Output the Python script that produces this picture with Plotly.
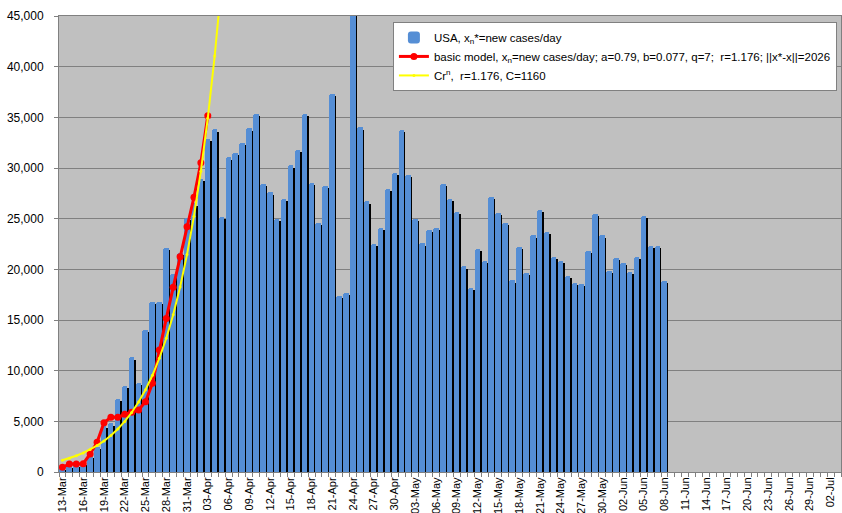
import pandas as pd
import plotly.graph_objects as go

# Daily new COVID-19 cases in the USA, 13-Mar .. 08-Jun 2020
start_date = "2020-03-13"
usa_new_cases = [
    430, 650, 750, 900, 1600, 2500, 4600, 4800, 7200, 8500,
    11300, 8800, 14000, 16800, 16800, 22100, 19500, 21600, 25100,          # March
    26500, 28900, 32900, 33800, 25200, 31050, 31500, 32500, 33900, 35350,
    28400, 27600, 25000, 26950, 30250, 31800, 35350, 28550, 24550, 28200,
    37350, 17350, 17700, 48000, 34000, 26700, 22500, 24100, 27950, 29550,  # April
    33750, 29300, 24950, 22550, 23900, 24100, 28400, 26950, 25650, 20300,
    18150, 22050, 20800, 27150, 25600, 24550, 18900, 22250, 19650, 23350,
    25900, 23700, 21250, 20850, 19350, 18700, 18550, 21850, 25450, 23350,
    19850,                                                                 # May
    21150, 20600, 19750, 21200, 25250, 22300, 22350, 18850,                # June
]

# Basic model output, 13-Mar .. 03-Apr
basic_model = [
    460, 790, 790, 820, 1780, 2930, 4870, 5400, 5400, 5690, 5900,
    6120, 6940, 8750, 12040, 15160, 18220, 21250, 24210, 27110, 30520, 35150,
]

# Exponential reference curve C*r^n
C_COEF = 1160
R_RATE = 1.176
N_STEPS = 24

bar_dates = pd.date_range(start_date, periods=len(usa_new_cases))
model_dates = pd.date_range(start_date, periods=len(basic_model))
exp_dates = pd.date_range(start_date, periods=N_STEPS)
exp_curve = [C_COEF * R_RATE ** n for n in range(N_STEPS)]

DAY_MS = 86400000
FONT = "Liberation Sans, Arial, sans-serif"
GRID = "#808080"

fig = go.Figure()

# shadow behind each bar
fig.add_trace(go.Bar(
    x=bar_dates, y=usa_new_cases, base=-220,
    width=0.80 * DAY_MS, offset=-0.24 * DAY_MS,
    marker=dict(color="#000000", line=dict(width=0)),
    showlegend=False, hoverinfo="skip",
))
fig.add_trace(go.Bar(
    x=bar_dates, y=usa_new_cases,
    width=0.80 * DAY_MS, offset=-0.44 * DAY_MS,
    marker=dict(color="#558ED5", line=dict(width=0), cornerradius=2),
    name="USA, x<sub>n</sub>*=new cases/day",
))
fig.add_trace(go.Scatter(
    x=model_dates, y=basic_model, mode="lines+markers",
    line=dict(color="#FF0000", width=3),
    marker=dict(color="#FF0000", size=7),
    name="basic model, x<sub>n</sub>=new cases/day; a=0.79, b=0.077, q=7;  r=1.176; ||x*-x||=2026",
))
fig.add_trace(go.Scatter(
    x=exp_dates, y=exp_curve, mode="lines+markers",
    line=dict(color="#FFFF00", width=2),
    marker=dict(color="#FFFF00", size=3),
    name="Cr<sup>n</sup>,  r=1.176, C=1160",
))

fig.update_layout(
    width=842, height=513,
    margin=dict(l=59, r=1, t=16, b=41, autoexpand=False),
    paper_bgcolor="#FFFFFF",
    plot_bgcolor="#C0C0C0",
    barmode="overlay",
    bargap=0,
    font=dict(family=FONT, size=12, color="#000000"),
    legend=dict(
        x=0.427, y=0.987, xanchor="left", yanchor="top",
        bgcolor="#FFFFFF", bordercolor=GRID, borderwidth=1,
        font=dict(family=FONT, size=11.5),
        itemwidth=30,
        tracegroupgap=2,
    ),
    xaxis=dict(
        type="date",
        range=["2020-03-12 12:00", "2020-07-03 12:00"],
        tick0=start_date, dtick=3 * DAY_MS,
        tickformat="%d-%b", tickangle=-90,
        tickfont=dict(family=FONT, size=11),
        ticks="", showgrid=False, automargin=False,
        showline=True, linecolor=GRID, linewidth=1, mirror=True,
        minor=dict(tick0="2020-03-12 12:00", dtick=DAY_MS,
                   ticks="outside", ticklen=4, tickcolor=GRID, showgrid=False),
    ),
    yaxis=dict(
        range=[0, 45000], dtick=5000, tickformat=",",
        tickfont=dict(family=FONT, size=12),
        ticks="outside", ticklen=4, tickcolor=GRID,
        showgrid=True, gridcolor=GRID, gridwidth=1,
        showline=True, linecolor=GRID, linewidth=1, mirror=True,
        zeroline=False, ticklabelstandoff=8, automargin=False,
    ),
)

fig.write_html("out.html")
